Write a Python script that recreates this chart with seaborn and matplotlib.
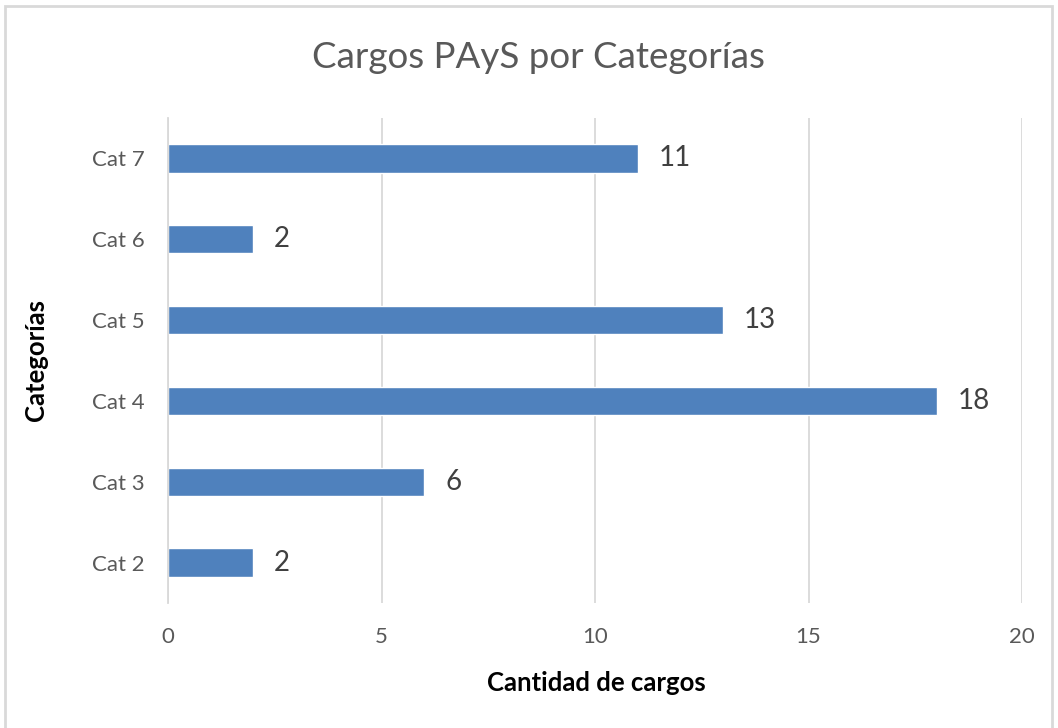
import matplotlib
matplotlib.use("Agg")
import matplotlib.pyplot as plt
import matplotlib.patches as mpatches
import seaborn as sns
import pandas as pd

# Data
categorias = ["Cat 7", "Cat 6", "Cat 5", "Cat 4", "Cat 3", "Cat 2"]
cantidades = [11, 2, 13, 18, 6, 2]
x_ticks = [0, 5, 10, 15, 20]

df = pd.DataFrame({"Categoría": categorias, "Cantidad": cantidades})

sns.set_theme(style="white")
plt.rcParams["font.family"] = ["Lato", "DejaVu Sans"]

fig = plt.figure(figsize=(10.58, 7.28), dpi=100)
ax = fig.add_axes([168 / 1058, 1 - 603 / 728, (1022 - 168) / 1058, (603 - 118) / 728])

sns.barplot(data=df, x="Cantidad", y="Categoría", order=categorias,
            color="#4F81BD", saturation=1, width=0.35, ax=ax)

ax.set_xlim(0, 20)
ax.set_ylim(5.5, -0.5)
ax.set_xticks(x_ticks)
ax.xaxis.grid(True, color="#D9D9D9", linewidth=1.3)
ax.set_axisbelow(True)
for s in ["top", "right", "bottom"]:
    ax.spines[s].set_visible(False)
ax.spines["left"].set_color("#D9D9D9")
ax.spines["left"].set_linewidth(1.3)
ax.tick_params(axis="both", length=0, labelsize=16, labelcolor="#595959")
ax.tick_params(axis="x", pad=17)
ax.tick_params(axis="y", pad=17)

for c in ax.containers:
    ax.bar_label(c, padding=15, fontsize=20, color="#404040")

ax.set_xlabel("")
ax.set_ylabel("")
fig.text(596 / 1058, 1 - 683 / 728, "Cantidad de cargos", ha="center", va="center",
         fontsize=18.5, fontweight="bold", color="black")
fig.text(36 / 1058, 1 - 360 / 728, "Categorías", ha="center", va="center", rotation=90,
         fontsize=18.5, fontweight="bold", color="black")
fig.text(538 / 1058, 1 - 58 / 728, "Cargos PAyS por Categorías", ha="center", va="center",
         fontsize=26.5, color="#595959")

# light frame around the chart
fig.patches.append(mpatches.Rectangle((5 / 1058, -0.05), (1052 - 5) / 1058, 1.05 - 6 / 728,
                                      transform=fig.transFigure, fill=False,
                                      edgecolor="#D9D9D9", linewidth=2))

fig.savefig("out.png", dpi=100, facecolor="white")
